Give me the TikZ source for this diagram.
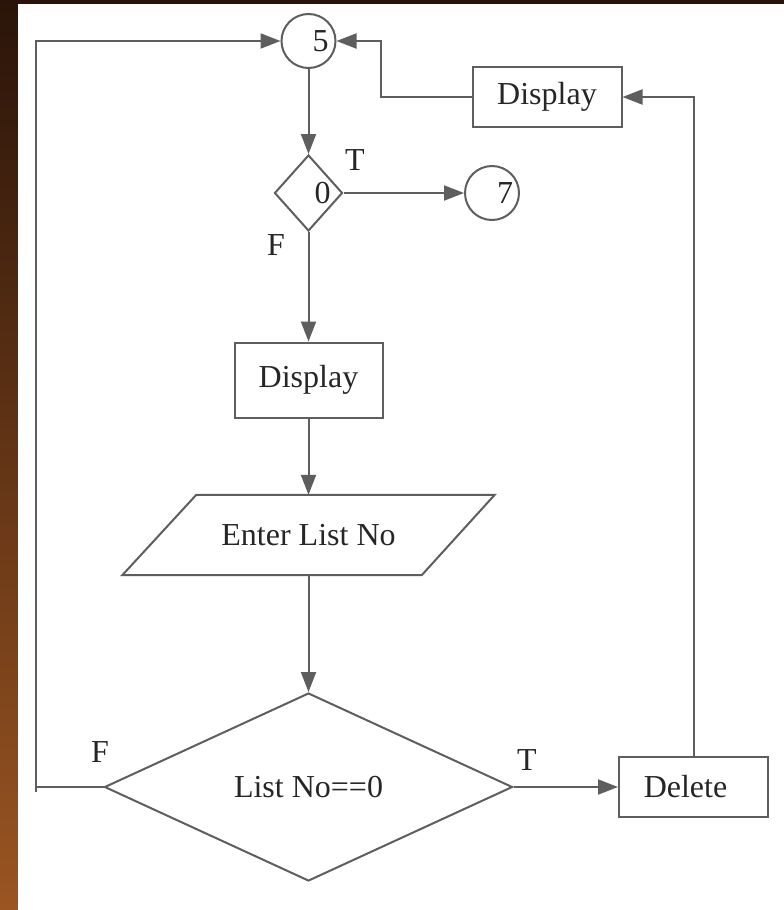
\documentclass[tikz,border=0pt]{standalone}
\usepackage{fontspec}
\setmainfont{Liberation Serif}
\usetikzlibrary{shapes.geometric,arrows.meta}
\definecolor{lc}{HTML}{5E5E5E}
\definecolor{tc}{HTML}{262626}
\definecolor{woodtop}{HTML}{2A1409}
\definecolor{woodbot}{HTML}{9A5522}
\begin{document}
\begin{tikzpicture}[x=1pt,y=-1pt,
  line/.style={draw=lc,line width=2pt},
  arr/.style={line,-{Triangle[length=20pt,width=15pt]}},
  txt/.style={text=tc,font=\fontsize{32}{38}\selectfont,inner sep=0pt},
  box/.style={draw=lc,line width=2pt,fill=white,inner sep=0pt,text=tc,font=\fontsize{32}{38}\selectfont},
  circ/.style={circle,draw=lc,line width=2pt,fill=white,minimum size=54pt,inner sep=0pt},
  dia/.style={diamond,draw=lc,line width=2pt,fill=white,inner sep=0pt}]
% background
\useasboundingbox (0,0) rectangle (784,910);
\shade[top color=woodtop,bottom color=woodbot] (0,0) rectangle (784,910);
\fill[white] (18,4) rectangle (784,910);
% nodes
\node[circ] (c5) at (308.5,41) {};
\node[txt] (t5) at ([xshift=12pt]c5.center) {5};
\node[dia,minimum width=68pt,minimum height=76pt] (d0) at (308.5,193) {};
\node[txt] (t0) at ([xshift=14pt]d0.center) {0};
\node[circ] (c7) at (492,193) {};
\node[txt] (t7) at ([xshift=13pt]c7.center) {7};
\node[box,minimum width=149pt,minimum height=60pt] (disp1) at (547,97) {Display};
\node[box,minimum width=148pt,minimum height=75pt] (disp2) at (308.5,380) {Display};
\node[inner sep=0pt,minimum width=298pt,minimum height=80pt] (enter) at (308.5,535) {};
\draw[line,fill=white,line join=miter] ([xshift=37pt]enter.north west) -- ([xshift=37pt]enter.north east)
   -- ([xshift=-36pt]enter.south east) -- ([xshift=-37pt]enter.south west) -- cycle;
\node[txt] (tenter) at (enter.center) {Enter List No};
\node[dia,minimum width=408pt,minimum height=188pt] (d1) at (308.5,787) {};
\node[txt] (td1) at (d1.center) {List No==0};
\node[box,minimum width=149pt,minimum height=60pt] (del) at (693.5,787) {};
\node[txt] (tdel) at ([xshift=-8pt]del.center) {Delete};
% labels
\node[txt] (lT1) at (355,160) {T};
\node[txt] (lF1) at (276,245) {F};
\node[txt] (lF2) at (100,752) {F};
\node[txt] (lT2) at (527,760) {T};
% coordinates
\coordinate (k1) at (381,97);
\coordinate (k2) at (37,787);
\coordinate (k3) at (36,792);
% connectors
\draw[arr] (c5.south) -- (d0.north);
\draw[arr] (d0.east) -- (c7.west);
\draw[arr] (d0.south) -- (disp2.north);
\draw[arr] (disp2.south) -- (enter.north);
\draw[arr] (enter.south) -- (d1.north);
\draw[arr] (d1.east) -- (del.west);
\draw[arr] (del.north) |- (disp1.east);
\draw[arr] (disp1.west) -- (k1) |- (c5.east);
\draw[line] (d1.west) -- (k2);
\draw[arr] (k3) |- (c5.west);
\end{tikzpicture}
\end{document}
